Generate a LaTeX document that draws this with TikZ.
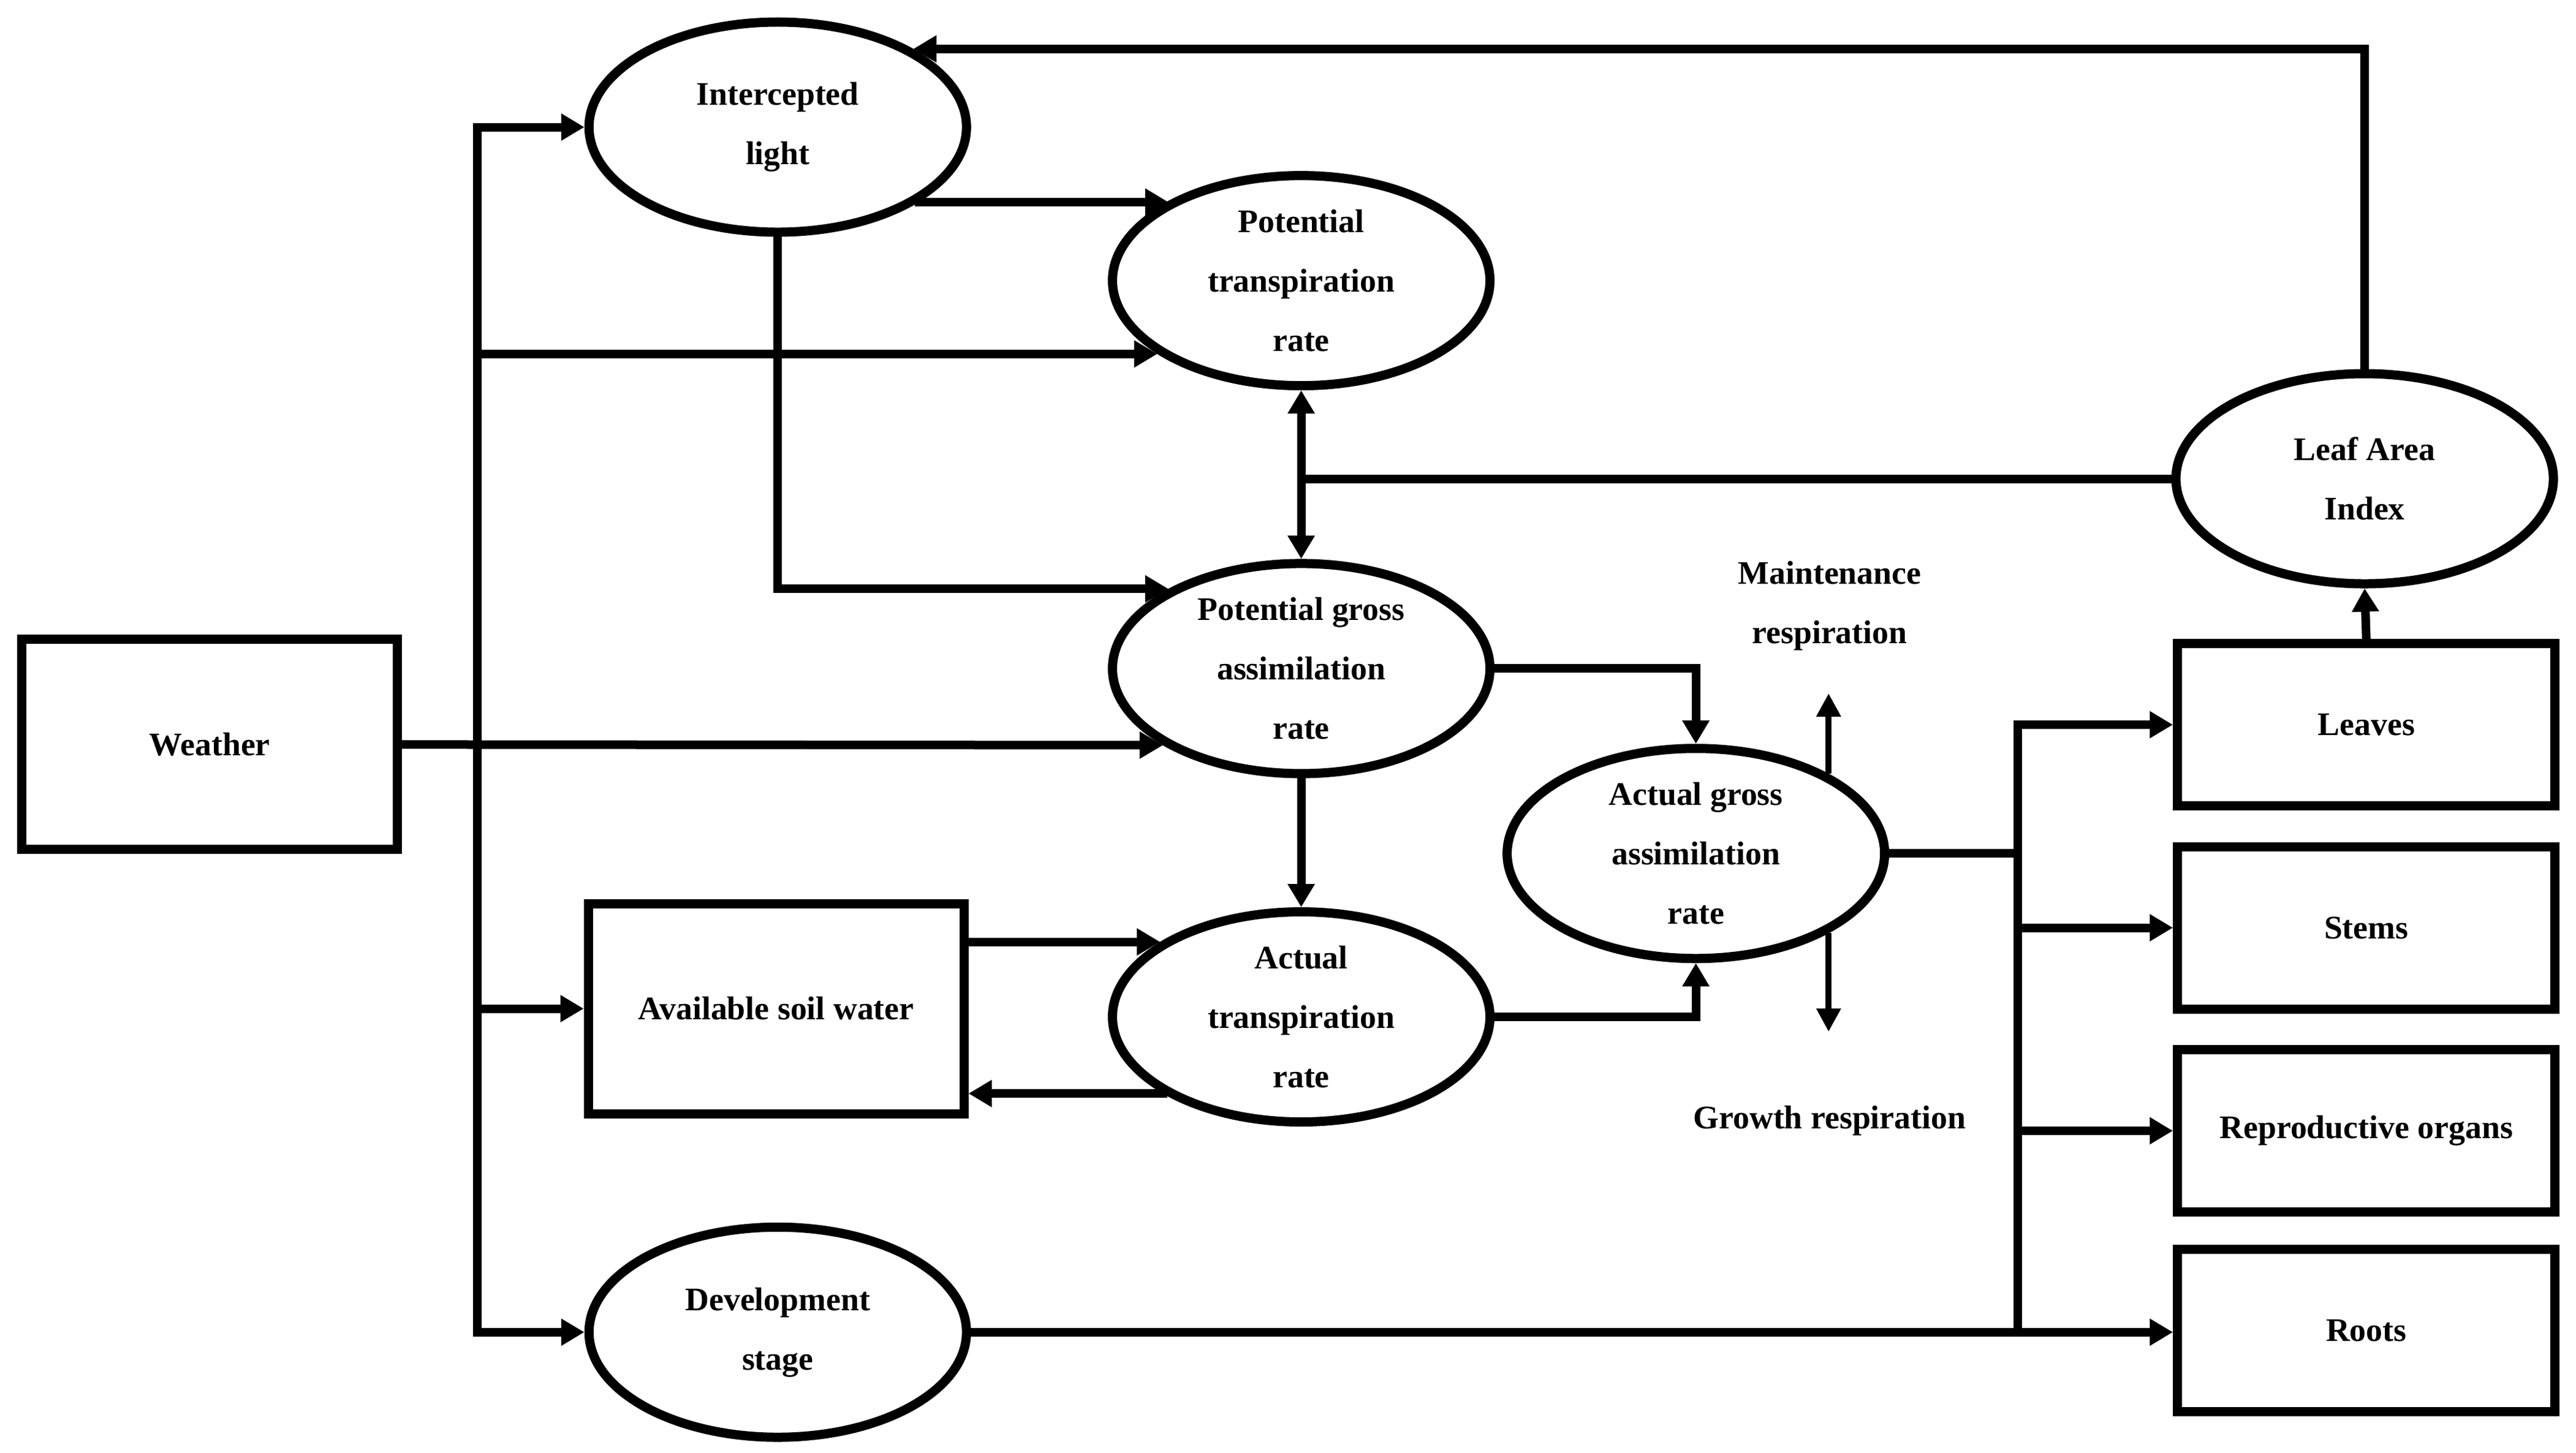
\documentclass[tikz,border=0pt]{standalone}
\usepackage{fontspec}
\setmainfont{Liberation Serif}
\usetikzlibrary{arrows.meta,shapes.geometric,positioning}
\begin{document}
\begin{tikzpicture}[
        x=0.02695cm, y=-0.02695cm,
        every node/.style={font=\fontsize{15.3}{27.6}\selectfont\bfseries, align=center},
        ell/.style={ellipse, draw, line width=0.15cm, minimum width=6.16cm, minimum height=3.43cm, inner sep=0pt},
        box/.style={rectangle, draw, line width=0.15cm, minimum width=6.13cm, minimum height=3.43cm},
        organ/.style={rectangle, draw, line width=0.15cm, minimum width=6.16cm, minimum height=2.65cm},
        link/.style={line width=0.14cm, line cap=rect},
        arr/.style={link, -{Triangle[length=0.38cm, width=0.42cm]}},
        resp/.style={line width=0.1cm, -{Triangle[length=0.38cm, width=0.38cm]}}
    ]
    \useasboundingbox (0,0) rectangle (1560,880.1);
    \node[box] (weather) at (127,451) {Weather};
    \node[ell] (il) at (471,77) {Intercepted\\light};
    \node[ell] (ptr) at (788,170) {Potential\\transpiration\\rate};
    \node[ell] (pga) at (788,405) {Potential gross\\assimilation\\rate};
    \node[ell] (aga) at (1027,517) {Actual gross\\assimilation\\rate};
    \node[ell] (atr) at (788,616) {Actual\\transpiration\\rate};
    \node[box] (asw) at (470,611) {Available soil water};
    \node[ell] (dev) at (471,807) {Development\\stage};
    \node[ell] (lai) at (1432,290) {Leaf Area\\Index};
    \node[organ] (leaves) at (1433,439) {Leaves};
    \node[organ] (stems) at (1433,562) {Stems};
    \node[organ] (repr) at (1433,685) {Reproductive organs};
    \node[organ] (roots) at (1433,806) {Roots};
    \node (maint) at (1108,367) {Maintenance\\respiration};
    \node (grow) at (1108,679) {Growth respiration};
    \coordinate (trunk) at (289,451);
    \coordinate (split) at (1222,517);
    \coordinate (mtip) at (1108,420);
    \coordinate (gtip) at (1108,625);

    % weather inputs
    \draw[link] (trunk |- il.west) -- (trunk |- dev.west);
    \draw[arr] (weather.east) -- (pga.209);
    \draw[arr] (trunk |- il.west) -- (il.west);
    \draw[arr] (trunk |- ptr.207) -- (ptr.207);
    \draw[arr] (trunk |- asw.west) -- (asw.west);
    \draw[arr] (trunk |- dev.west) -- (dev.west);

    % light and transpiration
    \draw[arr] (il.332) -- (il.332 -| ptr.149);
    \draw[arr] (il.south) |- (pga.149);
    \draw[arr] (lai.north) |- (il.30);
    \draw[link] (lai.west) -- (lai.west -| ptr.south);
    \draw[link, {Triangle[length=0.38cm, width=0.42cm]}-{Triangle[length=0.38cm, width=0.42cm]}] (ptr.south) -- (pga.north);
    \draw[arr] (pga.east) -| (aga.north);
    \draw[arr] (pga.south) -- (atr.north);
    \draw[arr] (asw.east |- atr.152) -- (atr.152);
    \draw[arr] (atr.209) -- (asw.east |- atr.209);
    \draw[arr] (atr.east) -| (aga.south);
    \draw[resp] (aga.31) -- (aga.31 |- mtip);
    \draw[resp] (aga.329) -- (aga.329 |- gtip);

    % partitioning
    \draw[link] (aga.east) -- (split);
    \draw[link] (split |- leaves.west) -- (split |- roots.west);
    \draw[arr] (split |- leaves.west) -- (leaves.west);
    \draw[arr] (split |- stems.west) -- (stems.west);
    \draw[arr] (split |- repr.west) -- (repr.west);
    \draw[arr] (dev.east) -- (dev.east -| roots.west);
    \draw[arr] (leaves.north) -- (lai.south);
    \end{tikzpicture}
\end{document}
